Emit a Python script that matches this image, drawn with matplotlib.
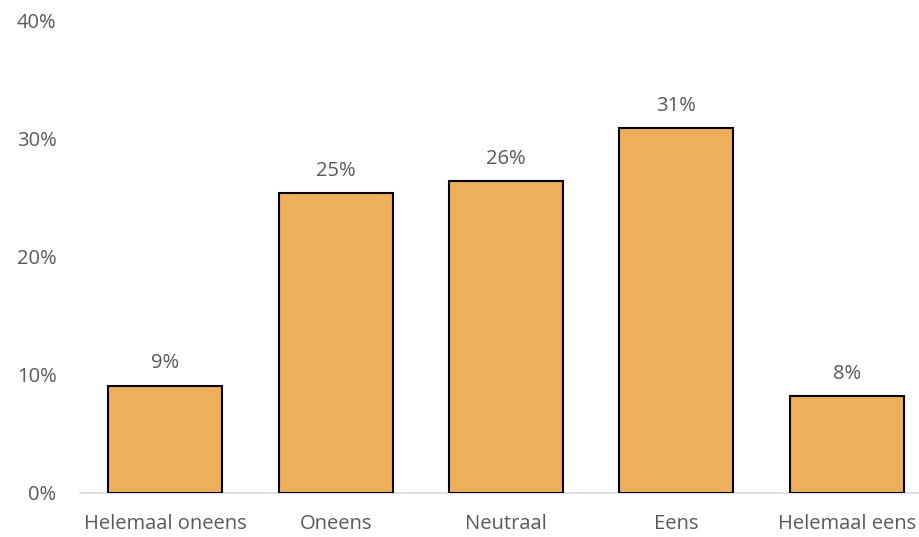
import matplotlib.pyplot as plt
from matplotlib.ticker import FuncFormatter

categories = ['Helemaal oneens', 'Oneens', 'Neutraal', 'Eens', 'Helemaal eens']
values = [9.1, 25.4, 26.4, 30.9, 8.2]
yticks = [0, 10, 20, 30, 40]

plt.rcParams['font.family'] = ['Open Sans', 'DejaVu Sans']
grey = '#595959'
fs = 14.5

fig = plt.figure(figsize=(9.2, 5.37), dpi=100)
ax = fig.add_axes([0.087, 0.082, 0.926, 0.879])

x = range(len(categories))
bars = ax.bar(x, values, width=0.67, color='#EDAF5A', edgecolor='black', linewidth=1.5, zorder=3)

for xi, v in zip(x, values):
    ax.annotate('%d%%' % round(v), (xi, v), xytext=(0, 9), textcoords='offset points',
                ha='center', va='bottom', fontsize=fs, color=grey)

ax.set_xlim(-0.5, len(categories) - 0.5)
ax.set_ylim(0, 40)
ax.set_yticks(yticks)
ax.yaxis.set_major_formatter(FuncFormatter(lambda v, p: '%d%%' % v))
ax.set_xticks(list(x))
ax.set_xticklabels(categories)

for s in ['top', 'right', 'left']:
    ax.spines[s].set_visible(False)
ax.spines['bottom'].set_color('#D9D9D9')
ax.spines['bottom'].set_linewidth(1.2)
ax.tick_params(axis='y', length=0, pad=17, labelsize=fs, labelcolor=grey)
ax.tick_params(axis='x', length=0, pad=15, labelsize=fs, labelcolor=grey)

plt.savefig('out.png', dpi=100)
